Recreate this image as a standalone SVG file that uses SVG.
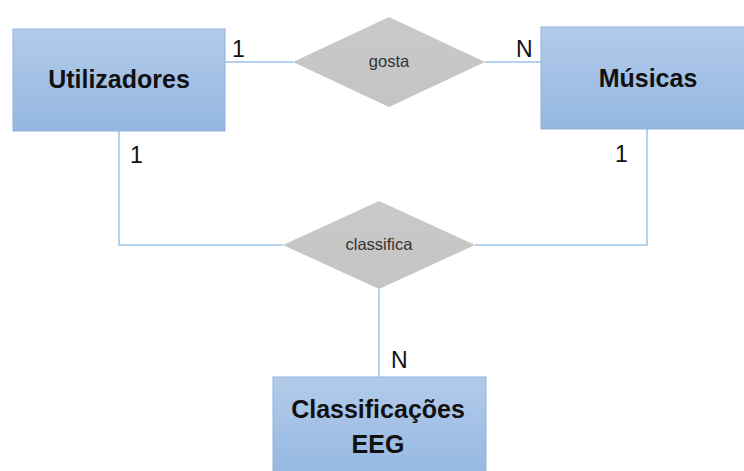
<svg xmlns="http://www.w3.org/2000/svg" width="744" height="471" viewBox="0 0 744 471">
<defs>
<linearGradient id="boxg" x1="0" y1="0" x2="0" y2="1">
<stop offset="0" stop-color="#b3cbea"/>
<stop offset="1" stop-color="#94b7e1"/>
</linearGradient>
<linearGradient id="diag" x1="0" y1="0" x2="0" y2="1">
<stop offset="0" stop-color="#c9c9c9"/>
<stop offset="1" stop-color="#c4c4c4"/>
</linearGradient>
<style>
.box{fill:url(#boxg);stroke:#8fb2df;stroke-width:1}
.dia{fill:url(#diag);stroke:none}
.conn{fill:none;stroke:#9dc3e6;stroke-width:1.5}
.ent{font-family:"Liberation Sans",Arial,sans-serif;font-weight:bold;font-size:25px;fill:#111;text-anchor:middle}
.rel{font-family:"Liberation Sans",Arial,sans-serif;font-size:16.5px;fill:#333;text-anchor:middle}
.card{font-family:"Liberation Sans",Arial,sans-serif;font-size:23px;fill:#111}
</style>
</defs>
<rect width="744" height="471" fill="#fff"/>
<g id="connectors">
<path class="conn" d="M225 62 H293"/>
<path class="conn" d="M485 62 H541"/>
<path class="conn" d="M119 131 V245 H283"/>
<path class="conn" d="M647 129 V245 H475"/>
<path class="conn" d="M379 289 V377"/>
</g>
<g id="utilizadores">
<rect class="box" x="13" y="29" width="212" height="102"/>
<text class="ent" x="119" y="88">Utilizadores</text>
</g>
<g id="musicas">
<rect class="box" x="541" y="27" width="214" height="102"/>
<text class="ent" x="648" y="87">Músicas</text>
</g>
<g id="classificacoes">
<rect class="box" x="273" y="377" width="213" height="102"/>
<text class="ent" x="378" y="418">Classificações</text>
<text class="ent" x="378" y="453">EEG</text>
</g>
<g id="gosta">
<polygon class="dia" points="389,17 485,62 389,107 293,62"/>
<text class="rel" x="389" y="67">gosta</text>
</g>
<g id="classifica">
<polygon class="dia" points="379,201 475,245 379,289 283,245"/>
<text class="rel" x="379" y="250">classifica</text>
</g>
<g id="labels">
<text class="card" x="232" y="57">1</text>
<text class="card" x="516" y="57">N</text>
<text class="card" x="130" y="163">1</text>
<text class="card" x="615" y="162">1</text>
<text class="card" x="391" y="368">N</text>
</g>
</svg>
